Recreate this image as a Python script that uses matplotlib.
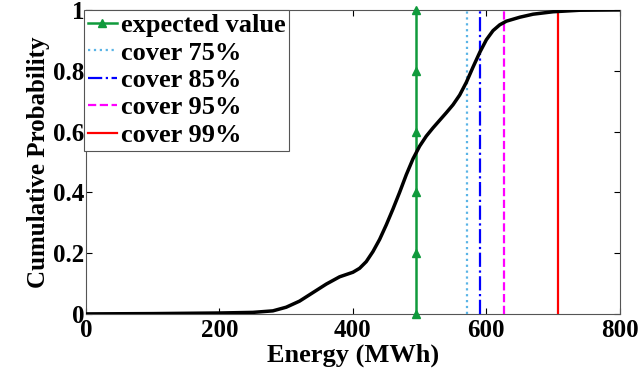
import numpy as np
import matplotlib
matplotlib.use('Agg')
import matplotlib.pyplot as plt

plt.rcParams['font.family'] = ['Liberation Serif', 'DejaVu Serif']
plt.rcParams['font.weight'] = 'bold'

###  data  ###

energy = [0, 100, 200, 250, 280, 300, 320, 340, 360, 380, 400, 410, 420, 430,
          440, 450, 460, 470, 480, 490, 500, 510, 520, 530, 540, 550, 560, 570,
          580, 590, 600, 610, 620, 630, 650, 670, 700, 740, 800]
cum_prob = [0, 0.001, 0.003, 0.005, 0.01, 0.022, 0.042, 0.07, 0.098, 0.122,
            0.137, 0.15, 0.172, 0.205, 0.245, 0.293, 0.345, 0.40, 0.458, 0.51,
            0.552, 0.585, 0.612, 0.637, 0.662, 0.688, 0.72, 0.762, 0.812,
            0.86, 0.902, 0.932, 0.951, 0.963, 0.976, 0.986, 0.994, 0.999, 1.0]

expected_value = 494
cover_levels = ['cover 75%', 'cover 85%', 'cover 95%', 'cover 99%']
cover_energy = [571, 591, 626, 707]
marker_probs = [0, 0.2, 0.4, 0.6, 0.8, 1.0]

x_ticks = [0, 200, 400, 600, 800]
y_ticks = [0, 0.2, 0.4, 0.6, 0.8, 1]
y_ticklabels = ['0', '0.2', '0.4', '0.6', '0.8', '1']

###  plot  ###

fig = plt.figure(figsize=(6.39, 3.68), dpi=100)
ax = fig.add_axes([0.1346, 0.147, 0.8354, 0.826])

ax.plot([expected_value] * len(marker_probs), marker_probs, color='#109a3c',
        lw=1.8, marker='^', ms=6, label='expected value', clip_on=False, zorder=4)

styles = [(':', '#5ab4e6'), ('-.', '#0000ff'), ('--', '#ff00ff'), ('-', '#ff0000')]
for lab, e, (ls, c) in zip(cover_levels, cover_energy, styles):
    ax.plot([e, e], [0, 1], ls=ls, color=c, lw=1.6, label=lab, zorder=3)

ax.plot(energy, cum_prob, color='black', lw=2.5, zorder=5, solid_joinstyle='round')

ax.set_xlim(0, 800)
ax.set_ylim(0, 1)
ax.set_xticks(x_ticks)
ax.set_yticks(y_ticks)
ax.set_yticklabels(y_ticklabels)
ax.tick_params(direction='in', top=True, right=True, labelsize=18, length=4)
ax.tick_params(axis='x', pad=4)
ax.tick_params(axis='y', pad=1)
for lbl in ax.get_xticklabels() + ax.get_yticklabels():
    lbl.set_fontweight('bold')
for s in ax.spines.values():
    s.set_color('#555555')
    s.set_linewidth(0.8)

ax.set_xlabel('Energy (MWh)', fontsize=19, fontweight='bold', labelpad=0.5)
ax.set_ylabel('Cumulative Probability', fontsize=18, fontweight='bold', labelpad=2)

leg = ax.legend(loc='upper left', fontsize=19, frameon=True, fancybox=False,
                handlelength=1.1, handletextpad=0.15, borderpad=0.14,
                labelspacing=0.15, borderaxespad=0.0, framealpha=1,
                bbox_to_anchor=(-0.004, 1.0))
leg.get_frame().set_edgecolor('#555555')
leg.get_frame().set_linewidth(0.8)
for t in leg.get_texts():
    t.set_fontweight('bold')

plt.savefig('out.png', dpi=100)
